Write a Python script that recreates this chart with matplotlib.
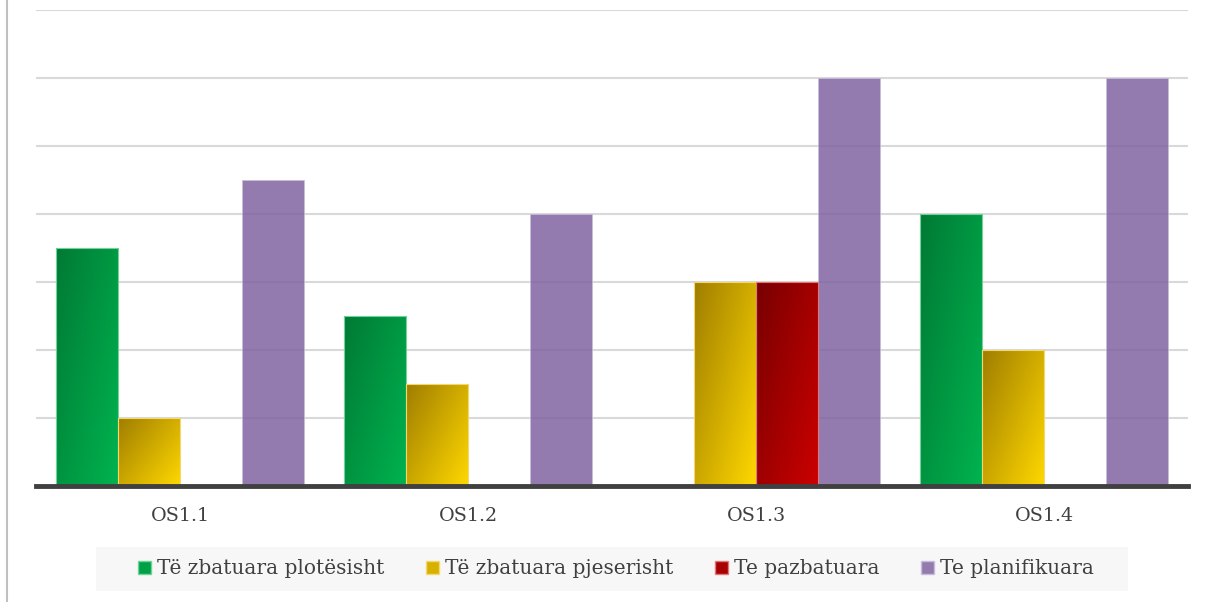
import numpy as np
import matplotlib
matplotlib.use("Agg")
import matplotlib.pyplot as plt
from matplotlib.patches import Patch, Rectangle
from matplotlib.colors import LinearSegmentedColormap
from matplotlib.lines import Line2D

categories = ["OS1.1", "OS1.2", "OS1.3", "OS1.4"]
series_names = ["Të zbatuara plotësisht", "Të zbatuara pjeserisht", "Te pazbatuara", "Te planifikuara"]
plotesisht = [3.5, 2.5, 0, 4]
pjeserisht = [1, 1.5, 3, 2]
pazbatuara = [0, 0, 3, 0]
planifikuara = [4.5, 4, 6, 6]

plt.rcParams['font.family'] = ['DejaVu Serif', 'Liberation Serif']

fig = plt.figure(figsize=(12.05, 6.02), dpi=100)
W, H = 1205, 602
ax = fig.add_axes([36 / W, 1 - 486 / H, (1188 - 36) / W, (486 - 10) / H])

x = np.arange(len(categories))
w = 0.2157
grads = [
    ("#007a35", "#00b34f"),
    ("#a07e00", "#ffd800"),
    ("#780000", "#cc0000"),
]
edges = ["#6fd39a", "#f3d870", "#e07a7a"]
series = [plotesisht, pjeserisht, pazbatuara]

ax.set_xlim(-0.5, 3.5)
ax.set_ylim(0, 7)

for g in range(1, 8):
    ax.axhline(g, color="#d9d9d9", lw=1.5, zorder=0)

ny, nx = 60, 60
uu, vv = np.meshgrid(np.linspace(0, 1, nx), np.linspace(0, 1, ny))
tt = 1 - (0.55 * uu + 0.45 * (1 - vv))

for i, (vals, (c0, c1), ec) in enumerate(zip(series, grads, edges)):
    cmap = LinearSegmentedColormap.from_list("g%d" % i, [c1, c0])
    bars = ax.bar(x + (i - 1.5) * w, vals, width=w, color="none", edgecolor=ec, lw=0.8, zorder=3)
    for b in bars:
        h = b.get_height()
        if h <= 0:
            continue
        x0 = b.get_x()
        im = ax.imshow(tt, cmap=cmap, vmin=0, vmax=1, origin="lower", aspect="auto",
                       extent=(x0, x0 + b.get_width(), 0, h), zorder=2, interpolation="bilinear")
        im.set_clip_path(b)

ax.bar(x + 1.5 * w, planifikuara, width=w, color="#8064A2", alpha=0.85, edgecolor="#c8bcd8", lw=0.6, zorder=2)

ax.set_xlim(-0.5, 3.5)
ax.set_ylim(0, 7)
ax.axhline(0, color="#404040", lw=3.5, zorder=5, clip_on=False)

for s in ax.spines.values():
    s.set_visible(False)
ax.set_yticks([])
ax.set_xticks(x)
ax.set_xticklabels(categories, fontsize=13.8, color="#404040")
ax.tick_params(axis="x", length=0, pad=15)

# legend background box
fig.add_artist(Rectangle((96 / W, 1 - 591 / H), (1128 - 96) / W, 44 / H, transform=fig.transFigure,
                         facecolor="#f7f7f7", edgecolor="none", zorder=0))

handles = [Patch(facecolor="#00a046", edgecolor="#6fd39a"),
           Patch(facecolor="#d8b000", edgecolor="#f3d870"),
           Patch(facecolor="#a80000", edgecolor="#e07a7a"),
           Patch(facecolor="#937bb0", edgecolor="#c8bcd8")]
leg = fig.legend(handles, series_names, loc="center", bbox_to_anchor=(616 / W, 1 - 569 / H),
                 ncol=4, frameon=False, fontsize=14.5, handlelength=0.65, handleheight=0.65,
                 handletextpad=0.3, columnspacing=2.05, borderpad=0.3,
                 labelcolor="#404040")

fig.add_artist(Line2D([7 / W, 7 / W], [0, 1], color="#c0c0c0", lw=1.5, transform=fig.transFigure))

fig.savefig("out.png", dpi=100, facecolor="white")
